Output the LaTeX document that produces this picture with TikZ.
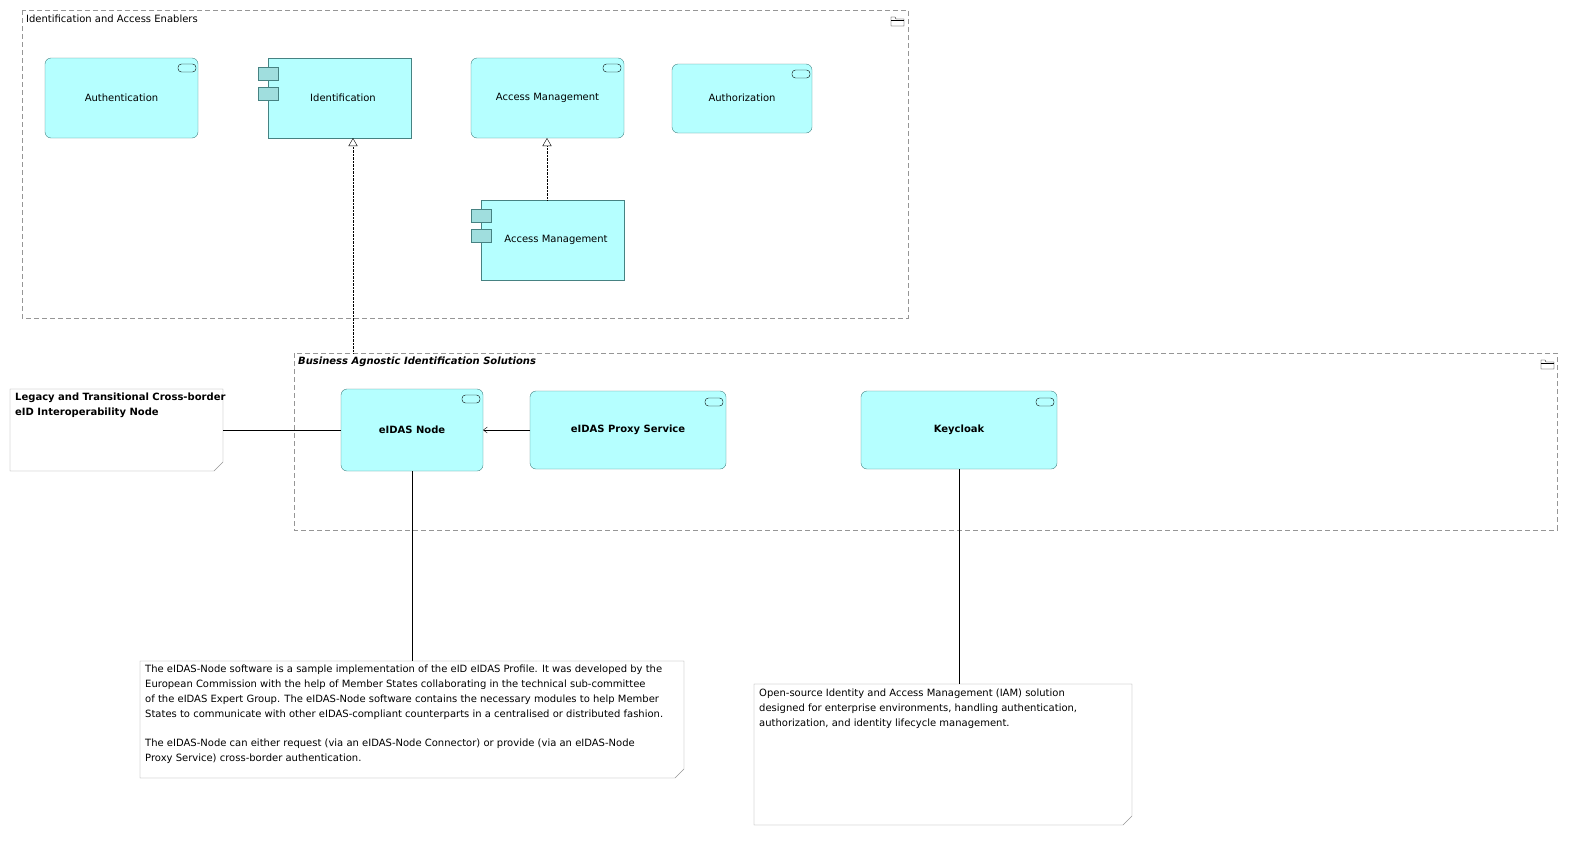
\documentclass[tikz,border=0pt]{standalone}
\usepackage{fontspec}
\setmainfont{DejaVu Sans}
\usetikzlibrary{arrows.meta}
\definecolor{app}{RGB}{181,255,255}
\definecolor{appd}{RGB}{160,222,222}
\definecolor{bord}{RGB}{70,130,130}
\definecolor{grp}{RGB}{150,150,150}
\tikzset{
 x=1pt,y=-1pt,
 every node/.style={font=\fontsize{10}{14.8}\selectfont},
 grp/.style={draw=grp,dashed,dash pattern=on 5pt off 3pt},
 svc/.style={draw=bord,fill=app,rounded corners=6pt},
 cmp/.style={draw=bord,fill=app},
 tab/.style={draw=bord,fill=appd},
 note/.style={draw=grp,fill=white},
 real/.style={densely dotted,-{Triangle[open,length=8pt,width=9pt]}},
}
\newcommand{\svcicon}[2]{\draw[fill=app,draw=black,rounded corners=3.5pt] (#1-9,#2-4) rectangle (#1+9,#2+4);}
\newcommand{\foldericon}[2]{\draw[black] (#1-6,#2-3) -- (#1-6,#2+5) -- (#1+7,#2+5) -- (#1+7,#2-2) -- (#1-1,#2-2) -- (#1-2,#2-4) -- (#1-6,#2-4) -- cycle; \draw (#1-6,#2-1)--(#1+7,#2-1);}
\newcommand{\notebox}[5]{\draw[note] (#1,#2) -- (#3,#2) -- (#3,#4-9) -- (#3-9,#4) -- (#1,#4) -- cycle; \coordinate (#5) at (#1,#2);}
\begin{document}
\begin{tikzpicture}
% groups
\draw[grp] (22,10) rectangle (908,318);
\node[anchor=west,inner sep=0] (g1) at (26,19) {Identification and Access Enablers};
\foldericon{897}{21}
\draw[grp] (294,353) rectangle (1557,530);
\node[anchor=west,inner sep=0] (g2) at (298,362) {\itshape\bfseries Business Agnostic Identification Solutions};
\foldericon{1547}{364}
% services
\draw[svc] (45,58) rectangle (198,138); \node (auth) at (121.5,98) {Authentication}; \svcicon{187}{68}
\draw[svc] (471,58) rectangle (624,138); \node (am) at (547.5,98) {Access Management}; \svcicon{612}{68}
\coordinate (amb) at (547,138);
\draw[svc] (672,64) rectangle (812,133); \node (authz) at (742,98) {Authorization}; \svcicon{801}{74}
% components
\draw[cmp] (268,58) rectangle (411,138); \node (ident) at (343,98) {Identification};
\draw[tab] (258,67) rectangle (278,80); \draw[tab] (258,87) rectangle (278,100);
\coordinate (identb) at (353,138);
\draw[cmp] (481,200) rectangle (624,280); \node (amc) at (556,240) {Access Management};
\draw[tab] (471,209) rectangle (491,222); \draw[tab] (471,229) rectangle (491,242);
\coordinate (amct) at (547,200);
\draw[real] (amct) -- (amb);
\coordinate (g2t) at (353,353);
\draw[real] (g2t) -- (identb);
% group 2 services
\draw[svc] (341,389) rectangle (483,471); \node (node) at (412,430) {\bfseries eIDAS Node}; \svcicon{471}{399}
\coordinate (nodeL) at (341,430); \coordinate (nodeR) at (483,430); \coordinate (nodeB) at (412,471);
\draw[svc] (530,391) rectangle (726,469); \node (proxy) at (628,430) {\bfseries eIDAS Proxy Service}; \svcicon{714}{402}
\coordinate (proxyL) at (530,430);
\draw[svc] (861,391) rectangle (1057,469); \node (kc) at (959,430) {\bfseries Keycloak}; \svcicon{1045}{402}
\coordinate (kcB) at (959,469);
\draw[-{Straight Barb[length=4pt,width=6pt]}] (proxyL) -- (nodeR);
% notes
\notebox{10}{389}{223}{471}{n0}
\node[anchor=north west,align=left,inner sep=0] (legacy) at (15,393) {\bfseries Legacy and Transitional Cross-border\\\bfseries eID Interoperability Node};
\coordinate (legR) at (223,430);
\draw (legR) -- (nodeL);
\notebox{140}{661}{684}{778}{n1}
\node[anchor=north west,align=left,inner sep=0] (t1) at (145,665) {The eIDAS-Node software is a sample implementation of the eID eIDAS Profile. It was developed by the\\European Commission with the help of Member States collaborating in the technical sub-committee\\of the eIDAS Expert Group. The eIDAS-Node software contains the necessary modules to help Member\\States to communicate with other eIDAS-compliant counterparts in a centralised or distributed fashion.\\[14.8pt]The eIDAS-Node can either request (via an eIDAS-Node Connector) or provide (via an eIDAS-Node\\Proxy Service) cross-border authentication.};
\coordinate (n1t) at (412,661);
\draw (nodeB) -- (n1t);
\notebox{754}{684}{1132}{825}{n2}
\node[anchor=north west,align=left,inner sep=0] (t2) at (759,689) {Open-source Identity and Access Management (IAM) solution\\designed for enterprise environments, handling authentication,\\authorization, and identity lifecycle management.};
\coordinate (n2t) at (959,684);
\draw (kcB) -- (n2t);
\pgfresetboundingbox
\path[use as bounding box] (0,0) rectangle (1593,849);
\end{tikzpicture}
\end{document}
